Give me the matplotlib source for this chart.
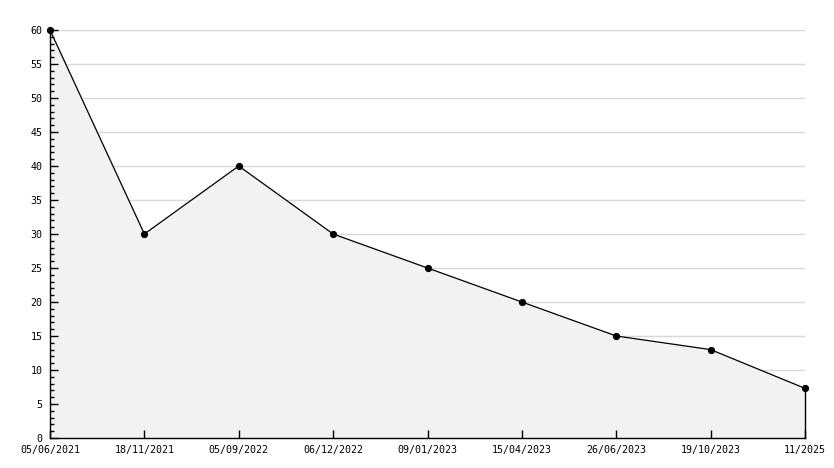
import matplotlib
matplotlib.use("Agg")
import matplotlib.pyplot as plt
import numpy as np

labels = ["05/06/2021", "18/11/2021", "05/09/2022", "06/12/2022", "09/01/2023",
          "15/04/2023", "26/06/2023", "19/10/2023", "11/2025"]
values = [60, 30, 40, 30, 25, 20, 15, 13, 7.3]

W, H = 834, 468
fig = plt.figure(figsize=(W / 100, H / 100), dpi=100)
ax = fig.add_axes([50 / W, 1 - 438 / H, (805 - 50) / W, (438 - 30) / H])

x = np.arange(len(values))
yt = np.arange(0, 61, 5)
for y in yt[1:]:
    ax.axhline(y, color="#d8d8d8", lw=1, zorder=0)
ax.fill_between(x, values, 0, color="#f2f2f2", zorder=1)
ax.plot([x[-1], x[-1]], [0, values[-1]], color="black", lw=1, zorder=3, clip_on=False)
ax.plot(x, values, color="black", lw=0.9, marker="o", ms=4.2, zorder=4, clip_on=False)

ax.set_xlim(0, len(values) - 1)
ax.set_ylim(0, 60)
ax.set_yticks(yt)
ax.set_yticks(np.arange(0, 61, 1), minor=True)
ax.set_xticks(x)
ax.set_xticklabels(labels)
ax.set_axisbelow(False)

for s in ["top", "right"]:
    ax.spines[s].set_visible(False)
for s in ["left", "bottom"]:
    ax.spines[s].set_color("black")
    ax.spines[s].set_linewidth(1)

ax.tick_params(axis="y", which="major", direction="in", length=6, width=1, labelsize=7.2, pad=5.5)
ax.tick_params(axis="y", which="minor", direction="in", length=3, width=1)
ax.tick_params(axis="x", which="major", direction="in", length=6, width=1, labelsize=7.2, pad=5)
for t in ax.get_xticklabels() + ax.get_yticklabels():
    t.set_fontfamily("DejaVu Sans Mono")

fig.savefig("out.png", dpi=100)
